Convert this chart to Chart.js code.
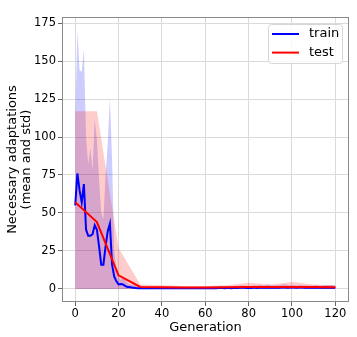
<!DOCTYPE html>
<html>
<head>
<meta charset="utf-8">
<script src="https://cdn.jsdelivr.net/npm/chart.js@4"></script>
<style>
  html, body { margin: 0; padding: 0; background: #fff; }
  #wrap { width: 357px; height: 337px; }
</style>
</head>
<body>
<div id="wrap"><canvas id="chart" width="357" height="337"></canvas></div>
<script>
const xTicks = [0, 20, 40, 60, 80, 100, 120];
const yTicks = [0, 25, 50, 75, 100, 125, 150, 175];

// train: one value per generation 0..120
const trainMean = [
  55, 76, 65, 57, 69, 39, 35, 35, 36, 42,
  39, 28, 16, 16, 28, 38, 43, 16, 8, 5,
  3, 3.3, 3, 2, 1.3, 1.2, 1, 0.8, 0.6, 0.5,
  0.5, 0.6, 0.5, 0.4, 0.5, 0.6, 0.5, 0.5, 0.4, 0.5,
  0.5, 0.4, 0.5, 0.5, 0.6, 0.5, 0.4, 0.4, 0.5, 0.5,
  0.4, 0.5, 0.5, 0.4, 0.4, 0.5, 0.5, 0.4, 0.5, 0.5,
  0.5, 0.5, 0.4, 0.5, 0.6, 0.5, 0.6, 0.7, 0.6, 0.5,
  0.6, 0.6, 0.5, 0.6, 0.7, 0.6, 0.7, 0.8, 0.7, 0.6,
  0.7, 0.6, 0.7, 0.8, 0.7, 0.9, 0.8, 0.7, 0.8, 0.9,
  0.8, 0.7, 0.8, 0.9, 0.8, 0.9, 1.0, 0.9, 0.8, 0.9,
  1.0, 0.9, 0.8, 0.9, 1.0, 0.9, 0.8, 0.9, 0.8, 0.7,
  0.8, 0.9, 0.8, 0.7, 0.8, 0.9, 0.8, 0.7, 0.8, 0.8, 0.7
];
const trainUpper = [
  112, 170, 144, 143, 158, 100, 82, 93, 78, 112,
  98, 72, 50, 46, 75, 95, 126, 85, 25, 12,
  8, 6, 8, 6.5, 4, 3, 3, 2.5, 2.2, 2.6,
  2, 1.8, 1.6, 1.5, 1.6, 1.5, 1.4, 1.5, 1.6, 1.5,
  1.5, 1.4, 1.5, 1.6, 1.5, 1.4, 1.4, 1.5, 1.5, 1.4,
  1.4, 1.5, 1.4, 1.4, 1.5, 1.4, 1.5, 1.5, 1.4, 1.5,
  1.5, 1.6, 1.5, 1.6, 1.8, 1.7, 1.9, 2.1, 2.0, 1.8,
  1.9, 1.8, 1.9, 2.0, 2.2, 2.0, 2.2, 2.4, 2.2, 2.0,
  2.1, 2.0, 2.2, 2.4, 2.2, 2.8, 2.5, 2.3, 2.6, 3.1,
  2.6, 2.3, 2.5, 2.4, 2.6, 2.7, 3.0, 3.1, 2.6, 2.4,
  2.6, 2.5, 2.3, 2.4, 2.6, 2.5, 2.4, 2.3, 2.2, 2.1,
  2.3, 2.4, 2.5, 2.1, 2.2, 2.5, 2.6, 2.4, 2.7, 2.5, 2.3
];

// test: every 10 generations
const testGens = [0, 10, 20, 30, 40, 50, 60, 70, 80, 90, 100, 110, 120];
const testMean = [57, 44, 9, 1.3, 1.1, 1, 1, 1.1, 1.3, 1.2, 1.3, 1.2, 1.1];
const testUpper = [117, 117, 27, 3, 2.5, 2, 2, 2.5, 4, 3, 4.5, 3, 2.5];

const trainPts = trainMean.map((v, i) => ({ x: i, y: v }));
const trainBand = trainUpper.map((v, i) => ({ x: i, y: v }));
const testPts = testGens.map((g, i) => ({ x: g, y: testMean[i] }));
const testBand = testGens.map((g, i) => ({ x: g, y: testUpper[i] }));

const FONT = "'DejaVu Sans', sans-serif";

// matplotlib-like frame + legend
const framePlugin = {
  id: "frame",
  afterDraw(chart) {
    const { ctx, chartArea: a } = chart;
    ctx.save();
    ctx.strokeStyle = "#888";
    ctx.lineWidth = 1;
    ctx.strokeRect(a.left + 0.5, a.top + 0.5, a.right - a.left - 1, a.bottom - a.top - 1);

    // legend box
    const bx = a.right - 81, by = a.top + 7, bw = 74, bh = 39;
    ctx.fillStyle = "rgba(255,255,255,0.8)";
    ctx.strokeStyle = "#d6d6d6";
    ctx.beginPath();
    ctx.roundRect(bx + 0.5, by + 0.5, bw, bh, 3);
    ctx.fill();
    ctx.stroke();
    const items = [["train", "#0000ff"], ["test", "#ff0000"]];
    items.forEach(([label, color], i) => {
      const y = by + 10 + i * 18.6;
      ctx.strokeStyle = color;
      ctx.lineWidth = 2;
      ctx.beginPath();
      ctx.moveTo(bx + 4, y);
      ctx.lineTo(bx + 31, y);
      ctx.stroke();
      ctx.fillStyle = "#000";
      ctx.font = "13px " + FONT;
      ctx.textBaseline = "middle";
      ctx.fillText(label, bx + 41, y);
    });
    ctx.restore();
  },
};

new Chart(document.getElementById("chart").getContext("2d"), {
  type: "line",
  data: {
    datasets: [
      {
        label: "test",
        data: testPts,
        borderColor: "#ff0000",
        borderWidth: 2,
        pointRadius: 0,
        fill: false,
        tension: 0,
      },
      {
        label: "train",
        data: trainPts,
        borderColor: "#0000ff",
        borderWidth: 2,
        pointRadius: 0,
        fill: false,
        tension: 0,
      },
      {
        label: "test std",
        data: testBand,
        borderWidth: 0,
        borderColor: "rgba(0,0,0,0)",
        backgroundColor: "rgba(255,0,0,0.2)",
        pointRadius: 0,
        fill: "origin",
        tension: 0,
      },
      {
        label: "train std",
        data: trainBand,
        borderWidth: 0,
        borderColor: "rgba(0,0,0,0)",
        backgroundColor: "rgba(0,0,255,0.2)",
        pointRadius: 0,
        fill: "origin",
        tension: 0,
      },
    ],
  },
  options: {
    responsive: false,
    animation: false,
    layout: { padding: { top: 17, right: 8, left: 0, bottom: 0 } },
    plugins: {
      legend: { display: false },
      tooltip: { enabled: false },
    },
    scales: {
      x: {
        type: "linear",
        min: -6.1,
        max: 126.3,
        afterBuildTicks: (s) => { s.ticks = xTicks.map((v) => ({ value: v })); },
        afterFit: (s) => { s.height = 35; },
        ticks: {
          color: "#000",
          font: { family: FONT, size: 11.5 },
          padding: 1,
          maxRotation: 0,
        },
        grid: { color: "#dadada", tickColor: "#666", tickLength: 4 },
        border: { display: false },
        title: {
          display: true,
          text: "Generation",
          color: "#000",
          font: { family: FONT, size: 13 },
          padding: { top: 0, bottom: 2 },
        },
      },
      y: {
        min: -8.6,
        max: 179,
        afterBuildTicks: (s) => { s.ticks = yTicks.map((v) => ({ value: v })); },
        afterFit: (s) => { s.width = 62; },
        ticks: {
          color: "#000",
          font: { family: FONT, size: 11.5 },
          padding: 2,
        },
        grid: { color: "#dadada", tickColor: "#666", tickLength: 4 },
        border: { display: false },
        title: {
          display: true,
          text: ["Necessary adaptations", "(mean and std)"],
          color: "#000",
          font: { family: FONT, size: 13, lineHeight: 1.1 },
          padding: { top: 5, bottom: 0 },
        },
      },
    },
  },
  plugins: [framePlugin],
});
</script>
</body>
</html>
